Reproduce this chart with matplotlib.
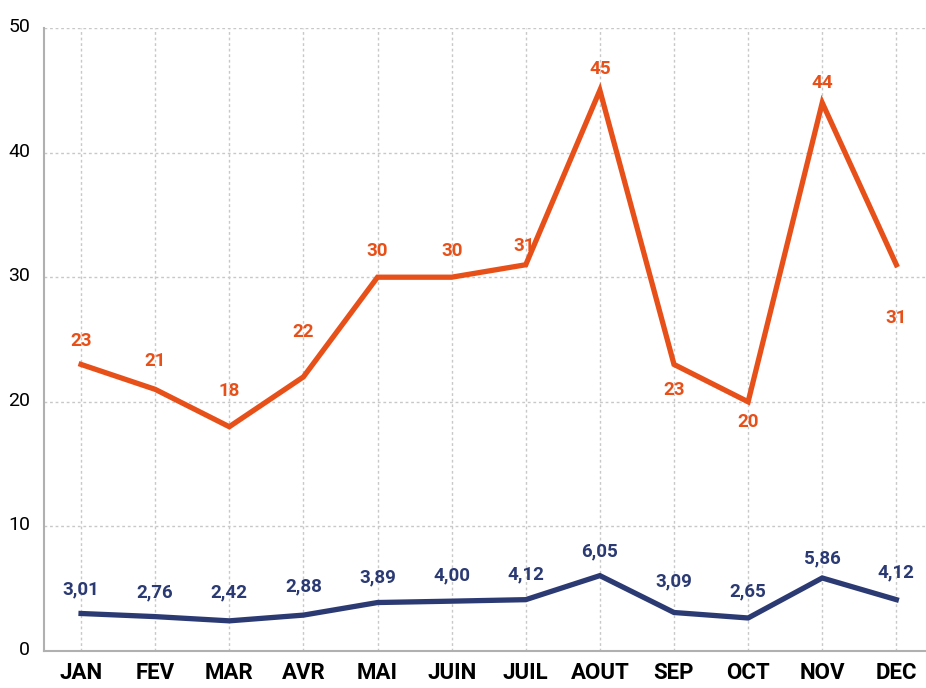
import matplotlib.pyplot as plt
import matplotlib.transforms as mtransforms

# data
months = ["JAN", "FEV", "MAR", "AVR", "MAI", "JUIN", "JUIL", "AOUT", "SEP", "OCT", "NOV", "DEC"]
orange_values = [23, 21, 18, 22, 30, 30, 31, 45, 23, 20, 44, 31]
navy_values = [3.01, 2.76, 2.42, 2.88, 3.89, 4.00, 4.12, 6.05, 3.09, 2.65, 5.86, 4.12]
y_ticks = [0, 10, 20, 30, 40, 50]

# label placement (pixels from point, negative = above)
orange_offsets = [-23, -28, -36, -45, -26, -26, -19, -21, 26, 20, -20, 53]
navy_offsets = [-24, -24, -28, -29, -25, -26, -25, -24, -31, -27, -20, -27]

ORANGE = "#E8501A"
NAVY = "#2B3A73"
GRID = "#c8c8c8"


def fmt_fr(v):
    return f"{v:.2f}".replace(".", ",")


def main():
    plt.rcParams["font.family"] = ["Roboto", "DejaVu Sans"]
    fig = plt.figure(figsize=(9.26, 6.88), dpi=100)
    ax = fig.add_axes([44 / 926, 37 / 688, 1 - 44 / 926, (651 - 28) / 688])

    x = list(range(len(months)))
    ax.plot(x, orange_values, color=ORANGE, lw=3.8, solid_joinstyle="miter", zorder=3)
    ax.plot(x, navy_values, color=NAVY, lw=3.8, solid_joinstyle="miter", zorder=3)

    for i, v in enumerate(orange_values):
        dx = -1.5 if i == 6 else 0
        off = mtransforms.offset_copy(ax.transData, fig=fig, x=dx, y=-orange_offsets[i] * 0.72, units="points")
        ax.text(i, v, str(v), transform=off, ha="center", va="center",
                color=ORANGE, fontsize=13.5, fontweight="bold")
    for i, v in enumerate(navy_values):
        off = mtransforms.offset_copy(ax.transData, fig=fig, x=0, y=-navy_offsets[i] * 0.72, units="points")
        ax.text(i, v, fmt_fr(v), transform=off, ha="center", va="center",
                color=NAVY, fontsize=13.5, fontweight="bold")

    ax.set_xlim(-0.5, 11.4)
    ax.set_ylim(0, 50)
    ax.set_xticks(x)
    ax.set_xticklabels(months, fontsize=16, fontweight="bold", color="black")
    ax.set_yticks(y_ticks)
    ax.set_yticklabels([str(t) for t in y_ticks], fontsize=14, color="black")
    ax.tick_params(axis="both", length=0)
    ax.tick_params(axis="x", pad=8)
    ax.tick_params(axis="y", pad=10)
    # nudge y labels up a little
    shift = mtransforms.ScaledTranslation(0, 3 / 100, fig.dpi_scale_trans)
    for lbl in ax.get_yticklabels():
        lbl.set_transform(lbl.get_transform() + shift)

    ax.grid(True, color=GRID, linestyle=(0, (2, 2)), linewidth=1)
    for s in ["top", "right"]:
        ax.spines[s].set_visible(False)
    for s in ["left", "bottom"]:
        ax.spines[s].set_color("#b0b0b0")
        ax.spines[s].set_linewidth(1.5)

    fig.savefig("out.png", dpi=100)


if __name__ == "__main__":
    main()
